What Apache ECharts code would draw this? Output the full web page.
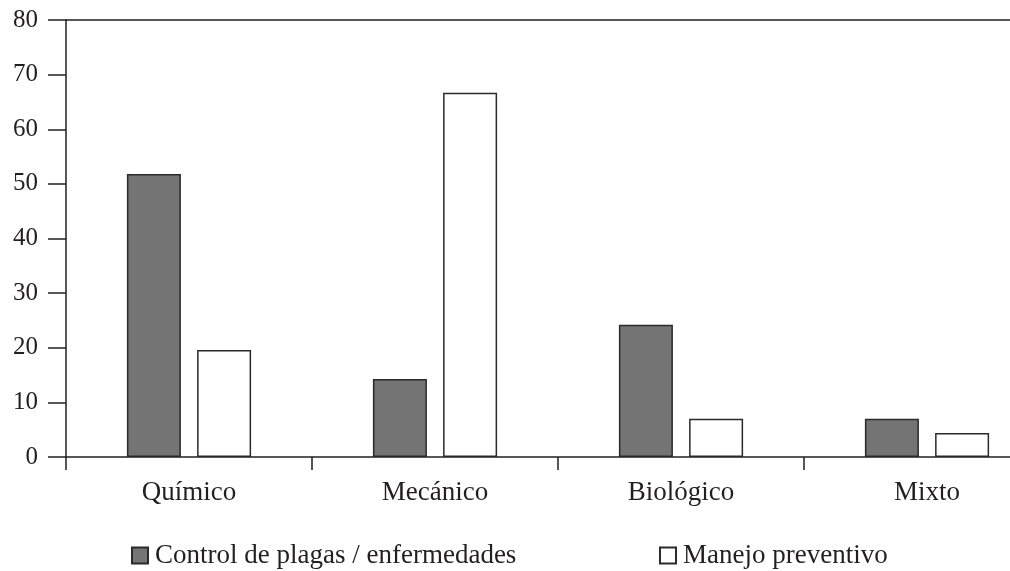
<!DOCTYPE html>
<html><head><meta charset="utf-8">
<script src="https://cdn.jsdelivr.net/npm/echarts@6/dist/echarts.min.js"></script>
<style>html,body{margin:0;padding:0;background:#fff}#c{width:1010px;height:571px}</style>
</head><body><div id="c"></div>
<script>
const categories = ['Químico', 'Mecánico', 'Biológico', 'Mixto'];
const controlPlagas = [51.8, 14.3, 24.2, 7.0];
const manejoPreventivo = [19.6, 66.7, 7.0, 4.4];
const seriesNames = ['Control de plagas / enfermedades', 'Manejo preventivo'];

const ink = '#231f20';
const font = 'Liberation Serif';
const legendText = {fontFamily: font, fontSize: 27, color: ink, padding: [0, 0, 0, 2]};
const chart = echarts.init(document.getElementById('c'), null, {renderer: 'canvas'});
chart.setOption({
  animation: false,
  backgroundColor: '#fff',
  textStyle: {fontFamily: font, color: ink},
  grid: {left: 66, width: 984, top: 20, height: 437, containLabel: false, outerBoundsMode: 'none'},
  legend: [{
    left: 126, top: 537, itemWidth: 16, itemHeight: 16, icon: 'rect',
    textStyle: legendText, data: [seriesNames[0]]
  }, {
    left: 654, top: 537, itemWidth: 16, itemHeight: 16, icon: 'rect',
    textStyle: legendText, data: [seriesNames[1]]
  }],
  xAxis: [{
    type: 'category', data: categories, position: 'bottom',
    axisLine: {lineStyle: {color: ink, width: 1.5}},
    axisTick: {show: true, inside: false, length: 13, lineStyle: {color: ink, width: 1.5}},
    axisLabel: {fontFamily: font, fontSize: 27, color: ink, margin: 22}
  }, {
    type: 'category', data: categories, position: 'top',
    axisLine: {show: true, lineStyle: {color: ink, width: 1.5}},
    axisTick: {show: false}, axisLabel: {show: false}
  }],
  yAxis: {
    type: 'value', min: 0, max: 80, interval: 10,
    axisLine: {show: true, lineStyle: {color: ink, width: 1.5}},
    axisTick: {show: true, length: 18, lineStyle: {color: ink, width: 1.5}},
    splitLine: {show: false},
    axisLabel: {fontFamily: font, fontSize: 25, color: ink, margin: 28}
  },
  series: [{
    name: seriesNames[0], type: 'bar', data: controlPlagas,
    barWidth: 54, barGap: '30%',
    itemStyle: {color: '#747474', borderColor: '#2a2a2a', borderWidth: 1.5}
  }, {
    name: seriesNames[1], type: 'bar', data: manejoPreventivo,
    barWidth: 54,
    itemStyle: {color: '#ffffff', borderColor: '#2a2a2a', borderWidth: 1.5}
  }]
});
</script></body></html>
